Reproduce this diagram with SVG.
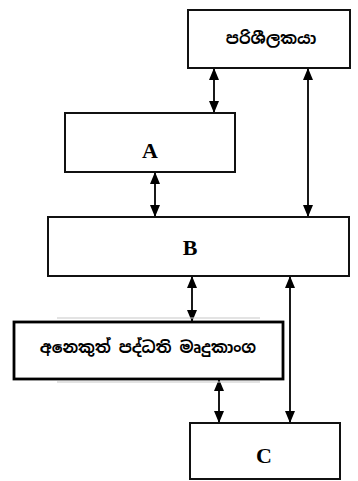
<svg xmlns="http://www.w3.org/2000/svg" width="358" height="481" viewBox="0 0 358 481">
<style>
.box{fill:#fff;stroke:#111;stroke-width:2}
.thick{fill:#fff;stroke:#000;stroke-width:2.8}
.lat{font-family:"Liberation Serif","Times New Roman",serif;font-weight:bold;font-size:22px;fill:#000;text-anchor:middle}
.sin{font-family:"Noto Sans Sinhala","Noto Sans","Iskoola Pota",sans-serif;font-weight:bold;font-size:16px;fill:#000;text-anchor:middle}
.ln{stroke:#000;stroke-width:1.8;fill:none;marker-start:url(#ah);marker-end:url(#ah)}
</style>
<defs>
<marker id="ah" viewBox="0 0 12 10" refX="12" refY="5" markerWidth="12" markerHeight="10" markerUnits="userSpaceOnUse" orient="auto-start-reverse">
<path d="M0,0 L12,5 L0,10 Z" fill="#000"/>
</marker>
</defs>
<g id="connectors">
<line class="ln" x1="214" y1="68" x2="214" y2="113"/>
<line class="ln" x1="308" y1="68" x2="308" y2="217"/>
<line class="ln" x1="155" y1="172" x2="155" y2="217"/>
<line class="ln" x1="192" y1="276" x2="192" y2="322"/>
<line class="ln" x1="290" y1="276" x2="290" y2="423"/>
<line class="ln" x1="219" y1="379" x2="219" y2="423"/>
</g>
<g id="user">
<rect class="box" x="188" y="10" width="162" height="58"/>
<text class="sin" x="271" y="44">පරිශීලකයා</text>
</g>
<g id="A">
<rect class="box" x="65" y="113" width="170" height="59"/>
<text class="lat" x="150" y="158">A</text>
</g>
<g id="B">
<rect class="box" x="48" y="217" width="301" height="59"/>
<text class="lat" x="190" y="255">B</text>
</g>
<g id="other">
<line x1="57" y1="318" x2="260" y2="318" stroke="#c8c8c8" stroke-width="1.2"/>
<line x1="57" y1="382" x2="260" y2="382" stroke="#c8c8c8" stroke-width="1.2"/>
<rect class="thick" x="14" y="322" width="269" height="57"/>
<text class="sin" x="148" y="353">අනෙකුත් පද්ධති මෘදුකාංග</text>
</g>
<g id="C">
<rect class="box" x="190" y="423" width="150" height="56"/>
<text class="lat" x="264" y="463">C</text>
</g>
</svg>
